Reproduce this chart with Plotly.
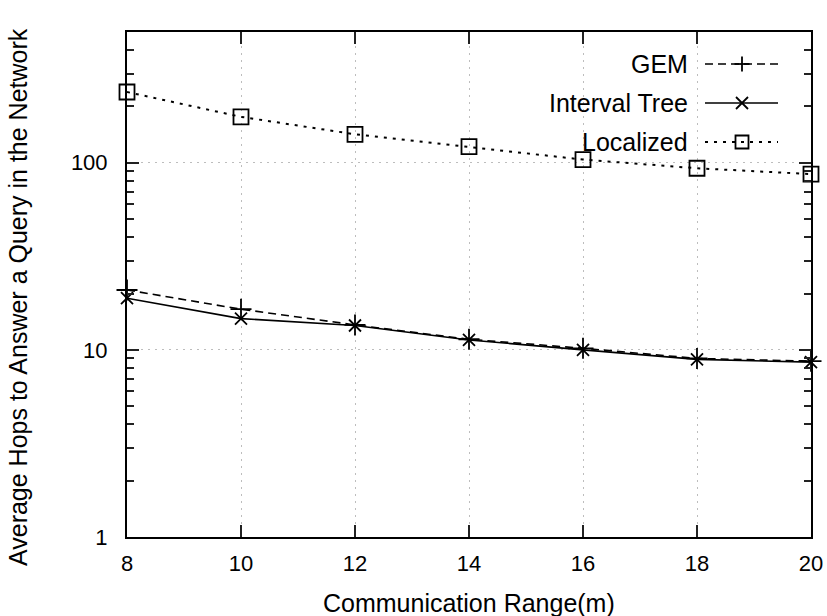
import plotly.graph_objects as go

x_range = [8, 10, 12, 14, 16, 18, 20]
gem = [20.9, 16.5, 13.6, 11.4, 10.2, 9.0, 8.7]
interval_tree = [18.9, 14.7, 13.5, 11.3, 10.0, 8.9, 8.6]
localized = [239, 176, 142, 122, 104, 93.5, 87]

series_names = ["GEM", "Interval Tree", "Localized"]
x_tickvals = [8, 10, 12, 14, 16, 18, 20]

FONT = "Liberation Sans, Arial, sans-serif"
FS_TITLE = 25
FS_TICK = 22
Y_RANGE = [0, 2.699]

W, H = 827, 616
ML, MR, MT, MB = 127, 16, 32, 79
PW, PH = W - ML - MR, H - MT - MB

styles = [
    dict(dash="8px,5px", symbol="cross-thin-open", size=15, width=1.6),
    dict(dash="solid", symbol="x-thin-open", size=12, width=1.6),
    dict(dash="3px,6px", symbol="square-open", size=15, width=2.0),
]

fig = go.Figure()
for name, ys, st in zip(series_names, [gem, interval_tree, localized], styles):
    fig.add_trace(go.Scatter(
        x=x_range, y=ys, name=name, mode="lines+markers",
        line=dict(color="black", width=st["width"], dash=st["dash"]),
        marker=dict(symbol=st["symbol"], size=st["size"], color="black",
                    line=dict(color="black", width=1.8)),
        showlegend=False, cliponaxis=False,
    ))


# ---- custom gnuplot-style legend (text, then sample to the right) ----
def px(xp):
    return (xp - ML) / PW


def py(yp):
    return (MT + PH - yp) / PH


leg_rows_px = [64, 103, 142]
text_right_px = 690
line_px = (705, 778)
mark_px = 742

annotations = []
shapes = []
for name, st, ry in zip(series_names, styles, leg_rows_px):
    annotations.append(dict(x=px(text_right_px), y=py(ry), xref="paper", yref="paper", text=name,
                            showarrow=False, xanchor="right", yanchor="middle",
                            font=dict(family=FONT, size=FS_TITLE, color="black")))
    shapes.append(dict(type="line", xref="paper", yref="paper",
                       x0=px(line_px[0]), x1=px(line_px[1]), y0=py(ry), y1=py(ry),
                       line=dict(color="black", width=st["width"], dash=st["dash"])))
    h = st["size"] / 2
    if st["symbol"].startswith("cross"):
        shapes.append(dict(type="line", xref="paper", yref="paper",
                           x0=px(mark_px - h), x1=px(mark_px + h), y0=py(ry), y1=py(ry),
                           line=dict(color="black", width=1.8)))
        shapes.append(dict(type="line", xref="paper", yref="paper",
                           x0=px(mark_px), x1=px(mark_px), y0=py(ry - h), y1=py(ry + h),
                           line=dict(color="black", width=1.8)))
    elif st["symbol"].startswith("x"):
        for s in (1, -1):
            shapes.append(dict(type="line", xref="paper", yref="paper",
                               x0=px(mark_px - h), x1=px(mark_px + h),
                               y0=py(ry - s * h), y1=py(ry + s * h),
                               line=dict(color="black", width=1.8)))
    else:
        hs = h - 1
        shapes.append(dict(type="rect", xref="paper", yref="paper",
                           x0=px(mark_px - hs), x1=px(mark_px + hs),
                           y0=py(ry - hs), y1=py(ry + hs),
                           line=dict(color="black", width=1.8), fillcolor="rgba(0,0,0,0)"))

annotations += [
    dict(text="Communication Range(m)", x=0.5, y=py(603), xref="paper", yref="paper",
         showarrow=False, xanchor="center", yanchor="middle",
         font=dict(family=FONT, size=FS_TITLE, color="black")),
    dict(text="Average Hops to Answer a Query in the Network",
         x=px(18), y=py(297), xref="paper", yref="paper",
         showarrow=False, textangle=-90, xanchor="center", yanchor="middle",
         font=dict(family=FONT, size=FS_TITLE, color="black")),
]

grid_dash = "2px,5px"
fig.update_layout(
    width=W, height=H,
    margin=dict(l=ML, r=MR, t=MT, b=MB, autoexpand=False),
    paper_bgcolor="white", plot_bgcolor="white",
    font=dict(family=FONT, size=FS_TICK, color="black"),
    xaxis=dict(
        range=[8, 20], tickvals=x_tickvals, ticks="inside", ticklen=12, tickwidth=2,
        tickcolor="#222", mirror="allticks", showline=True, linewidth=2, linecolor="black",
        showgrid=True, gridcolor="#bdbdbd", griddash=grid_dash, gridwidth=1,
        zeroline=False, ticklabelstandoff=6, automargin=False,
        tickfont=dict(size=FS_TICK),
    ),
    yaxis=dict(
        type="log", range=Y_RANGE, tickmode="linear", tick0=0, dtick=1,
        ticks="inside", ticklen=12, tickwidth=2, tickcolor="#222",
        mirror="allticks", showline=True, linewidth=2, linecolor="black",
        showgrid=True, gridcolor="#bdbdbd", griddash=grid_dash, gridwidth=1,
        zeroline=False, ticklabelstandoff=13, automargin=False,
        tickfont=dict(size=FS_TICK),
        minor=dict(dtick="D1", ticks="inside", ticklen=7, tickwidth=2,
                   tickcolor="#222", showgrid=False),
    ),
    annotations=annotations,
    shapes=shapes,
)

fig.write_html("out.html")
